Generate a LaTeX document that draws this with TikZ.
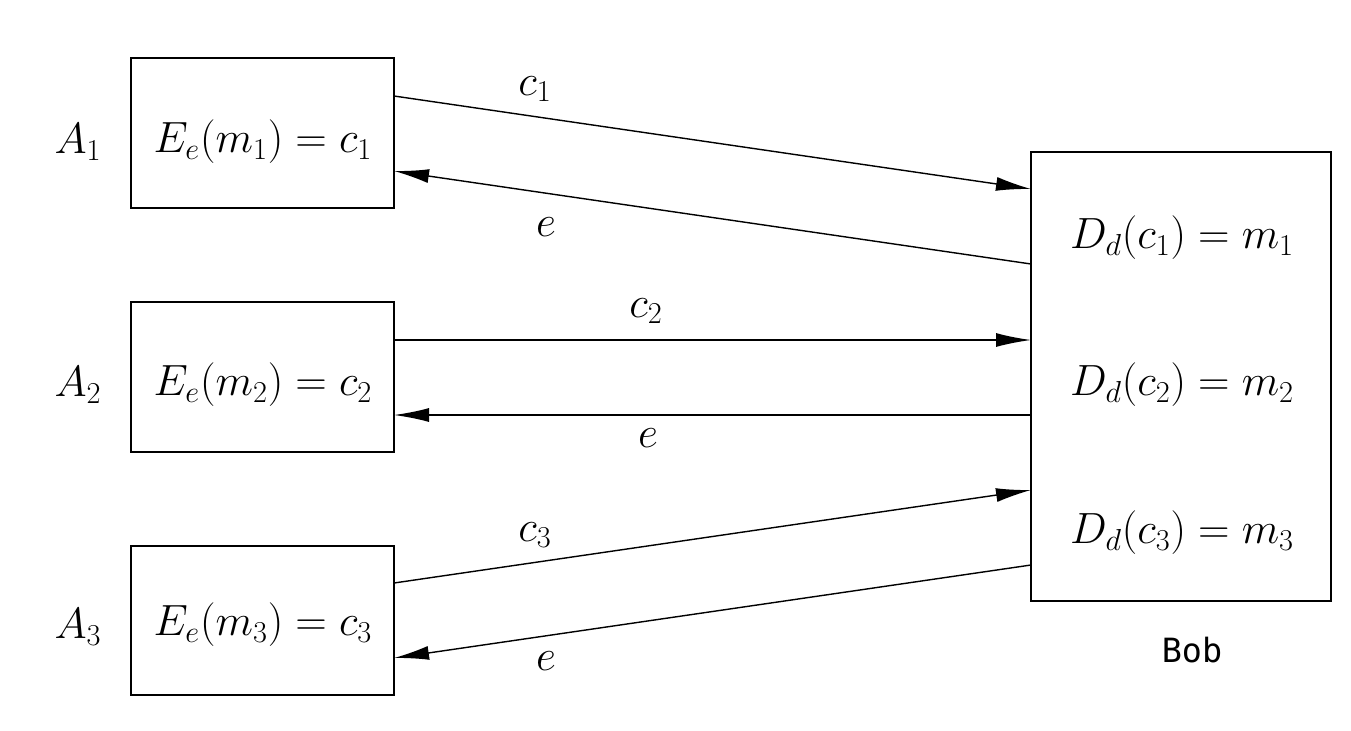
\documentclass[tikz,border=0pt]{standalone}
\usepackage{fontspec}
\newfontfamily\bobfont{DejaVu Sans Mono}
\usetikzlibrary{arrows.meta}
\begin{document}
\begin{tikzpicture}[x=0.02cm,y=-0.02cm,
  box/.style={draw,line width=0.8pt},
  arr/.style={line width=0.8pt,-{Latex[length=0.7cm,width=0.28cm]}},
  lbl/.style={font=\fontsize{23.3}{27}\selectfont}]
\useasboundingbox (0,0) rectangle (1351,730);
\draw[box] (131,58) rectangle (394,208);
\draw[box] (131,302) rectangle (394,452);
\draw[box] (131,546) rectangle (394,695);
\draw[box] (1031,152) rectangle (1331,601);
\node[lbl] (t1) at (263,142) {$E_e(m_1)=c_1$};
\node[lbl] (t2) at (263,385) {$E_e(m_2)=c_2$};
\node[lbl] (t3) at (263,625) {$E_e(m_3)=c_3$};
\node[lbl] (a1) at (78,142) {$A_1$};
\node[lbl] (a2) at (78,385) {$A_2$};
\node[lbl] (a3) at (78,627) {$A_3$};
\node[lbl] (d1) at (1182,238) {$D_d(c_1)=m_1$};
\node[lbl] (d2) at (1182,385) {$D_d(c_2)=m_2$};
\node[lbl] (d3) at (1182,533) {$D_d(c_3)=m_3$};
\node[font=\bobfont\fontsize{19}{22}\selectfont] (bob) at (1192,650) {Bob};
\coordinate (p1) at (394,96); \coordinate (q1) at (1031,189);
\coordinate (r1) at (1031,264); \coordinate (s1) at (394,171);
\coordinate (p2) at (394,340); \coordinate (q2) at (1031,340);
\coordinate (r2) at (1031,415); \coordinate (s2) at (394,415);
\coordinate (p3) at (394,583); \coordinate (q3) at (1031,490);
\coordinate (r3) at (1031,565); \coordinate (s3) at (394,658);
\draw[arr] (p1) -- (q1); \draw[arr] (r1) -- (s1);
\draw[arr] (p2) -- (q2); \draw[arr] (r2) -- (s2);
\draw[arr] (p3) -- (q3); \draw[arr] (r3) -- (s3);
\node[lbl] (l1) at (535,89) {$c_1$};
\node[lbl] (l2) at (546,227) {$e$};
\node[lbl] (l3) at (646,311) {$c_2$};
\node[lbl] (l4) at (648,438) {$e$};
\node[lbl] (l5) at (535,535) {$c_3$};
\node[lbl] (l6) at (546,661) {$e$};
\end{tikzpicture}
\end{document}
